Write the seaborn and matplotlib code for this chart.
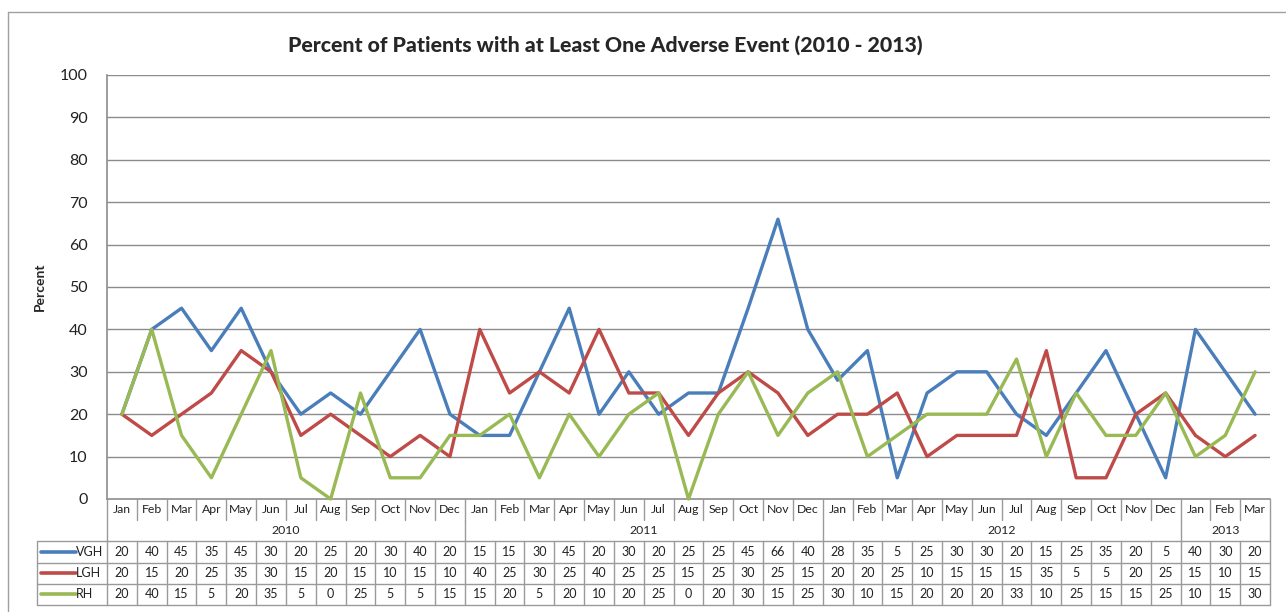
import numpy as np
import pandas as pd
import seaborn as sns
import matplotlib.pyplot as plt
from matplotlib.lines import Line2D

month_names = ["Jan", "Feb", "Mar", "Apr", "May", "Jun", "Jul", "Aug", "Sep", "Oct", "Nov", "Dec"]
month_labels = month_names * 3 + month_names[:3]
years = ["2010", "2011", "2012", "2013"]
year_counts = [12, 12, 12, 3]
series_names = ["VGH", "LGH", "RH"]
vgh = [20, 40, 45, 35, 45, 30, 20, 25, 20, 30, 40, 20,
       15, 15, 30, 45, 20, 30, 20, 25, 25, 45, 66, 40,
       28, 35, 5, 25, 30, 30, 20, 15, 25, 35, 20, 5,
       40, 30, 20]
lgh = [20, 15, 20, 25, 35, 30, 15, 20, 15, 10, 15, 10,
       40, 25, 30, 25, 40, 25, 25, 15, 25, 30, 25, 15,
       20, 20, 25, 10, 15, 15, 15, 35, 5, 5, 20, 25,
       15, 10, 15]
rh = [20, 40, 15, 5, 20, 35, 5, 0, 25, 5, 5, 15,
      15, 20, 5, 20, 10, 20, 25, 0, 20, 30, 15, 25,
      30, 10, 15, 20, 20, 20, 33, 10, 25, 15, 15, 25,
      10, 15, 30]
colors = {"VGH": "#4A7EBB", "LGH": "#BE4B48", "RH": "#98B954"}

n = len(month_labels)
values = {"VGH": vgh, "LGH": lgh, "RH": rh}
df = pd.DataFrame([
    {"idx": i, "series": s, "value": values[s][i]}
    for s in series_names for i in range(n)
])

sns.set_style("white")
plt.rcParams['font.family'] = ['Lato', 'DejaVu Sans']

W, H = 1286, 612
fig = plt.figure(figsize=(12.86, 6.12), dpi=100)

# Zone du graphique (en pixels)
x0, x1 = 107, 1270
y_top, y_bot = 75, 499
ax = fig.add_axes([x0 / W, 1 - y_bot / H, (x1 - x0) / W, (y_bot - y_top) / H])

grid_c = "#8c8c8c"
sns.lineplot(data=df, x="idx", y="value", hue="series", palette=colors,
             hue_order=series_names, linewidth=2.4, legend=False, ax=ax,
             clip_on=False, zorder=3)

ax.set_xlim(-0.5, n - 0.5)
ax.set_ylim(0, 100)
ax.set_yticks(range(0, 101, 10))
ax.tick_params(axis='y', labelsize=11.5, length=0, pad=14, colors="#222222")
ax.set_xticks([])
ax.set_xlabel("")
ax.set_ylabel("Percent", fontsize=10, fontweight="bold", labelpad=10)
for y in range(10, 101, 10):
    ax.axhline(y, color=grid_c, linewidth=1, zorder=1)
for side in ["top", "right"]:
    ax.spines[side].set_visible(False)
for side in ["left", "bottom"]:
    ax.spines[side].set_color(grid_c)
    ax.spines[side].set_linewidth(1.2)

fig.text(605 / W, 1 - 45 / H,
         "Percent of Patients with at Least One Adverse Event (2010 - 2013)",
         ha="center", va="center", fontsize=15.3, fontweight="black")

# Tableau de données sous le graphique
t_bot = 605
tab = fig.add_axes([x0 / W, 1 - t_bot / H, (x1 - x0) / W, (t_bot - y_bot) / H])
tab.set_xlim(-0.5, n - 0.5)
tab.set_ylim(5, 0)
tab.axis("off")
line_c = "#9a9a9a"
col_w = (x1 - x0) / n
leg_left = -0.5 - (x0 - 37) / col_w

def seg(xs, ys, lw=1.0, c=line_c):
    tab.add_line(Line2D(xs, ys, color=c, linewidth=lw, clip_on=False))

# bordures verticales
seg([-0.5, -0.5], [0, 5])
seg([n - 0.5, n - 0.5], [0, 5])
seg([leg_left, leg_left], [2, 5])
for i in range(1, n):
    seg([i - 0.5, i - 0.5], [0, 1])
    seg([i - 0.5, i - 0.5], [2, 5])
pos = 0
for c in year_counts[:-1]:
    pos += c
    seg([pos - 0.5, pos - 0.5], [1, 2])
# lignes horizontales
for r in [2, 3, 4, 5]:
    seg([leg_left, n - 0.5], [r, r])

for i, m in enumerate(month_labels):
    tab.text(i, 0.5, m, ha="center", va="center", fontsize=8.8, color="#222222")
pos = 0
for yr, c in zip(years, year_counts):
    tab.text(pos + (c - 1) / 2, 1.5, yr, ha="center", va="center", fontsize=8.8, color="#222222")
    pos += c

for r, s in enumerate(series_names):
    yy = 2.5 + r
    tab.add_line(Line2D([leg_left + 0.12, leg_left + 1.3], [yy, yy], color=colors[s],
                        linewidth=2.6, clip_on=False, solid_capstyle="round"))
    tab.text(leg_left + 1.32, yy, s, ha="left", va="center", fontsize=9, color="#222222")
    for i, v in enumerate(values[s]):
        tab.text(i, yy, str(v), ha="center", va="center", fontsize=9, color="#222222")

# cadre extérieur de la zone du graphique
fig.add_artist(Line2D([8 / W, 8 / W], [0, 1 - 12 / H], color="#a0a0a0", linewidth=1))
fig.add_artist(Line2D([8 / W, 1], [1 - 12 / H, 1 - 12 / H], color="#a0a0a0", linewidth=1))

fig.savefig("out.png", dpi=100)
